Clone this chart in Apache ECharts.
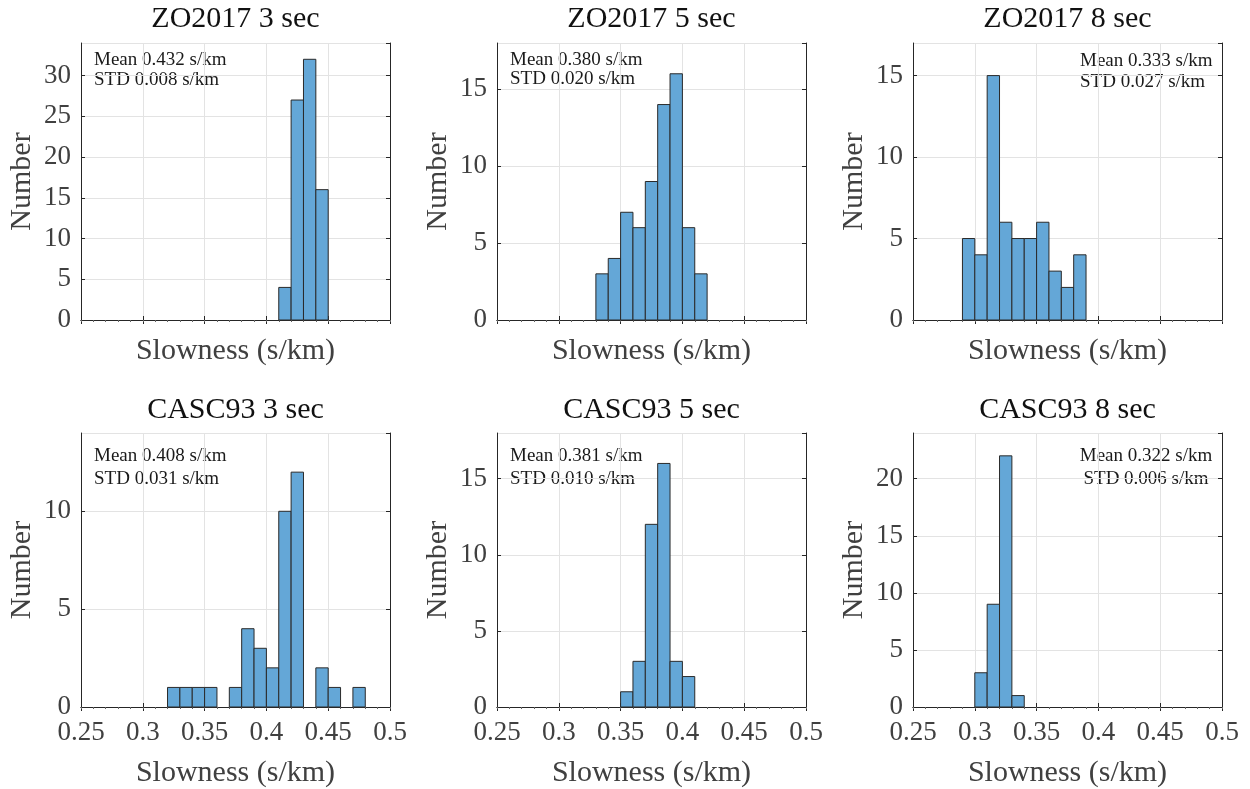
<!DOCTYPE html>
<html><head><meta charset="utf-8">
<script src="https://cdn.jsdelivr.net/npm/echarts@6/dist/echarts.min.js"></script>
<style>html,body{margin:0;padding:0;background:#fff}#c{width:1250px;height:789px}</style>
</head><body><div id="c"></div>
<script>
// ---- data ----
const binWidth = 0.01;
const xMin = 0.25, xMax = 0.5, xInterval = 0.05;   // tick labels 0.25 ... 0.5
const yInterval = 5;
const titles = ['ZO2017 3 sec', 'ZO2017 5 sec', 'ZO2017 8 sec', 'CASC93 3 sec', 'CASC93 5 sec', 'CASC93 8 sec'];
const zo3Start = 0.41, zo3Counts = [4, 27, 32, 16];
const zo5Start = 0.33, zo5Counts = [3, 4, 7, 6, 9, 14, 16, 6, 3];
const zo8Start = 0.29, zo8Counts = [5, 4, 15, 6, 5, 5, 6, 3, 2, 4];
const ca3Start = 0.32, ca3Counts = [1, 1, 1, 1, 0, 1, 4, 3, 2, 10, 12, 0, 2, 1, 0, 1];
const ca5Start = 0.35, ca5Counts = [1, 3, 12, 16, 3, 2];
const ca8Start = 0.30, ca8Counts = [3, 9, 22, 1];
const meanValues = ['0.432', '0.380', '0.333', '0.408', '0.381', '0.322'];
const stdValues = ['0.008', '0.020', '0.027', '0.031', '0.010', '0.006'];
const yMax = [34, 18, 17, 14, 18, 24];

const starts = [zo3Start, zo5Start, zo8Start, ca3Start, ca5Start, ca8Start];
const counts = [zo3Counts, zo5Counts, zo8Counts, ca3Counts, ca5Counts, ca8Counts];

// ---- layout ----
const FONT = '"Liberation Serif", "Times New Roman", serif';
const colLeft = [81, 497, 913];
const colWidth = [309, 309, 309];
const rowTop = [43, 433];
const rowHeight = [277, 276];
const AX = '#262626';
const TXT = '#404040';

const grids = [], xAxes = [], yAxes = [], series = [], graphics = [];

for (let i = 0; i < 6; i++) {
  const r = Math.floor(i / 3), c = i % 3;
  grids.push({ left: colLeft[c], top: rowTop[r], width: colWidth[c], height: rowHeight[r] });
  // main x axis
  xAxes.push({
    gridIndex: i, type: 'value', position: 'bottom', min: xMin, max: xMax, interval: xInterval,
    axisLine: { show: true, lineStyle: { color: AX, width: 1 } },
    axisTick: { show: true, inside: true, length: 4, lineStyle: { color: AX } },
    axisLabel: { show: r === 1, margin: 12, fontSize: 27, fontFamily: FONT, color: TXT },
    splitLine: { show: true, lineStyle: { color: '#e3e3e3', width: 1 } },
    name: 'Slowness (s/km)', nameLocation: 'middle', nameGap: r === 0 ? 16 : 51,
    nameTextStyle: { fontSize: 30, fontFamily: FONT, color: TXT }
  });
  // top mirror
  xAxes.push({
    gridIndex: i, type: 'value', position: 'top', min: xMin, max: xMax, interval: xInterval,
    axisLine: { show: true, lineStyle: { color: AX, width: 1 } },
    axisTick: { show: true, inside: true, length: 4, lineStyle: { color: AX } },
    axisLabel: { show: false }, splitLine: { show: false }
  });
  // bin-edge marks below the baseline
  xAxes.push({
    gridIndex: i, type: 'value', position: 'bottom', min: xMin, max: xMax, interval: xInterval,
    axisLine: { show: false },
    axisTick: { show: true, inside: false, length: 2, lineStyle: { color: '#666' } },
    minorTick: { show: true, splitNumber: 5, length: 2, lineStyle: { color: '#666' } },
    axisLabel: { show: false }, splitLine: { show: false }
  });
  yAxes.push({
    gridIndex: i, type: 'value', position: 'left', min: 0, max: yMax[i], interval: yInterval,
    axisLine: { show: true, lineStyle: { color: AX, width: 1 } },
    axisTick: { show: true, inside: true, length: 4, lineStyle: { color: AX } },
    axisLabel: { showMaxLabel: false, margin: 10, fontSize: 27, fontFamily: FONT, color: TXT },
    splitLine: { show: true, lineStyle: { color: '#e3e3e3', width: 1 } },
    name: 'Number', nameLocation: 'middle', nameGap: 44,
    nameTextStyle: { fontSize: 30, fontFamily: FONT, color: TXT }
  });
  yAxes.push({
    gridIndex: i, type: 'value', position: 'right', min: 0, max: yMax[i], interval: yInterval,
    axisLine: { show: true, lineStyle: { color: AX, width: 1 } },
    axisTick: { show: true, inside: true, length: 4, lineStyle: { color: AX } },
    axisLabel: { show: false }, splitLine: { show: false }
  });
  const data = counts[i].map((v, k) => [
    +(starts[i] + k * binWidth).toFixed(4), +(starts[i] + (k + 1) * binWidth).toFixed(4), v
  ]);
  series.push({
    type: 'custom', name: titles[i], xAxisIndex: 3 * i, yAxisIndex: 2 * i, data,
    encode: { x: [0, 1], y: 2 },
    renderItem: function (params, api) {
      const v = api.value(2);
      if (!v) return null;
      const p0 = api.coord([api.value(0), v]);
      const p1 = api.coord([api.value(1), 0]);
      return {
        type: 'rect',
        shape: { x: p0[0], y: p0[1], width: p1[0] - p0[0], height: p1[1] - p0[1] },
        style: { fill: '#64a7d7', stroke: '#2a2a2a', lineWidth: 1 }
      };
    }
  });
  // title
  graphics.push({
    type: 'text', x: colLeft[c] + colWidth[c] / 2, y: r === 0 ? 19.5 : 410.5,
    style: { text: titles[i], font: '30px ' + FONT, fill: '#111', align: 'center', verticalAlign: 'middle' }
  });
}

// stats annotations
const statPos = [
  { x: 94, y1: 60, y2: 80, align: 'left' },
  { x: 510, y1: 60.5, y2: 79.5, align: 'left' },
  { x: 1080, y1: 61.5, y2: 82.5, align: 'left' },
  { x: 94, y1: 456.5, y2: 479.5, align: 'left' },
  { x: 510, y1: 456.5, y2: 479.5, align: 'left' },
  { x: 1146, y1: 456.5, y2: 479.5, align: 'center' }
];
statPos.forEach((p, i) => {
  graphics.push({ type: 'text', x: p.x, y: p.y1,
    style: { text: 'Mean ' + meanValues[i] + ' s/km', font: '19px ' + FONT, fill: '#1a1a1a', align: p.align, verticalAlign: 'middle' } });
  graphics.push({ type: 'text', x: p.x, y: p.y2,
    style: { text: 'STD ' + stdValues[i] + ' s/km', font: '19px ' + FONT, fill: '#1a1a1a', align: p.align, verticalAlign: 'middle' } });
});

const chart = echarts.init(document.getElementById('c'), null, { renderer: 'canvas' });
chart.setOption({
  animation: false,
  backgroundColor: '#fff',
  grid: grids, xAxis: xAxes, yAxis: yAxes, series,
  graphic: graphics
});
</script></body></html>
